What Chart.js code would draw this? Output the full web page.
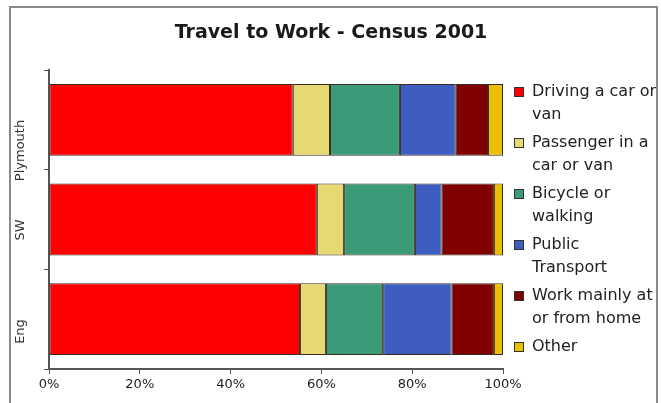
<!DOCTYPE html>
<html>
<head>
<meta charset="utf-8">
<script src="https://cdn.jsdelivr.net/npm/chart.js@4"></script>
<style>
  html, body { margin:0; padding:0; background:#fff; }
  #wrap { width:661px; height:403px; position:relative; }
</style>
</head>
<body>
<div id="wrap"><canvas id="chart" width="661" height="403"></canvas></div>
<script>
// areas, top to bottom
const areas = ["Plymouth", "SW", "Eng"];

// share of travel mode, percent
const driving   = [53.7, 59.0, 55.3];
const passenger = [8.2, 6.0, 5.7];
const bicycle   = [15.4, 15.6, 12.6];
const publicTr  = [12.3, 5.9, 15.1];
const fromHome  = [7.1, 11.5, 9.3];
const other     = [3.3, 2.0, 2.0];

const modeLabels = [
  ["Driving a car or", "van"],
  ["Passenger in a", "car or van"],
  ["Bicycle or", "walking"],
  ["Public", "Transport"],
  ["Work mainly at", "or from home"],
  ["Other"]
];
const modeColors = ["#ff0000", "#e6d873", "#3b9a78", "#3f5cc0", "#800000", "#e8c000"];
const series = [driving, passenger, bicycle, publicTr, fromHome, other];
const titleText = "Travel to Work - Census 2001";

const datasets = series.map((vals, i) => ({
  label: modeLabels[i].join(" "),
  data: vals,
  backgroundColor: modeColors[i],
  borderColor: "#3a2a20",
  borderWidth: 1,
  borderSkipped: false,
  barPercentage: 0.72,
  categoryPercentage: 1
}));

// frame, title across the full width, wrapped legend on the right
const framePlugin = {
  id: "frame",
  beforeDraw(chart) {
    const c = chart.ctx;
    c.save();
    c.fillStyle = "#fff";
    c.fillRect(0, 0, chart.width, chart.height);
    c.strokeStyle = "#8a8a8a";
    c.lineWidth = 2;
    c.strokeRect(10, 7, 647, 420);
    c.restore();
  },
  afterDraw(chart) {
    const c = chart.ctx;
    c.save();
    c.fillStyle = "#1a1a1a";
    c.font = "bold 19px 'DejaVu Sans'";
    c.textAlign = "center";
    c.textBaseline = "middle";
    c.fillText(titleText, 331, 33);

    c.textAlign = "left";
    c.font = "16px 'DejaVu Sans'";
    let y = 92;
    modeLabels.forEach((lines, i) => {
      c.fillStyle = modeColors[i];
      c.fillRect(514, y - 5, 10, 10);
      c.strokeStyle = "#333";
      c.lineWidth = 1;
      c.strokeRect(514.5, y - 4.5, 9, 9);
      c.fillStyle = "#222";
      lines.forEach((t, k) => c.fillText(t, 532, y + k * 23));
      y += 51;
    });
    c.restore();
  }
};

new Chart(document.getElementById("chart"), {
  type: "bar",
  data: { labels: areas, datasets },
  options: {
    indexAxis: "y",
    responsive: false,
    animation: false,
    layout: { padding: { left: 12, right: 158, top: 70, bottom: 0 } },
    scales: {
      x: {
        stacked: true,
        min: 0,
        max: 100,
        afterFit(s) { s.height = 34; },
        ticks: {
          stepSize: 20,
          color: "#222",
          font: { family: "DejaVu Sans", size: 13 },
          callback: v => v + "%"
        },
        grid: { drawOnChartArea: false, tickLength: 5, color: "#555" },
        border: { color: "#555", width: 2 }
      },
      y: {
        stacked: true,
        afterFit(s) { s.width = 37; },
        ticks: {
          minRotation: 90,
          maxRotation: 90,
          padding: 23,
          color: "#333",
          font: { family: "DejaVu Sans", size: 13 }
        },
        grid: { drawOnChartArea: false, tickLength: 5, color: "#555", offset: true },
        border: { color: "#555", width: 2 }
      }
    },
    plugins: {
      legend: { display: false },
      tooltip: { enabled: false },
      title: { display: false }
    }
  },
  plugins: [framePlugin]
});
</script>
</body>
</html>
